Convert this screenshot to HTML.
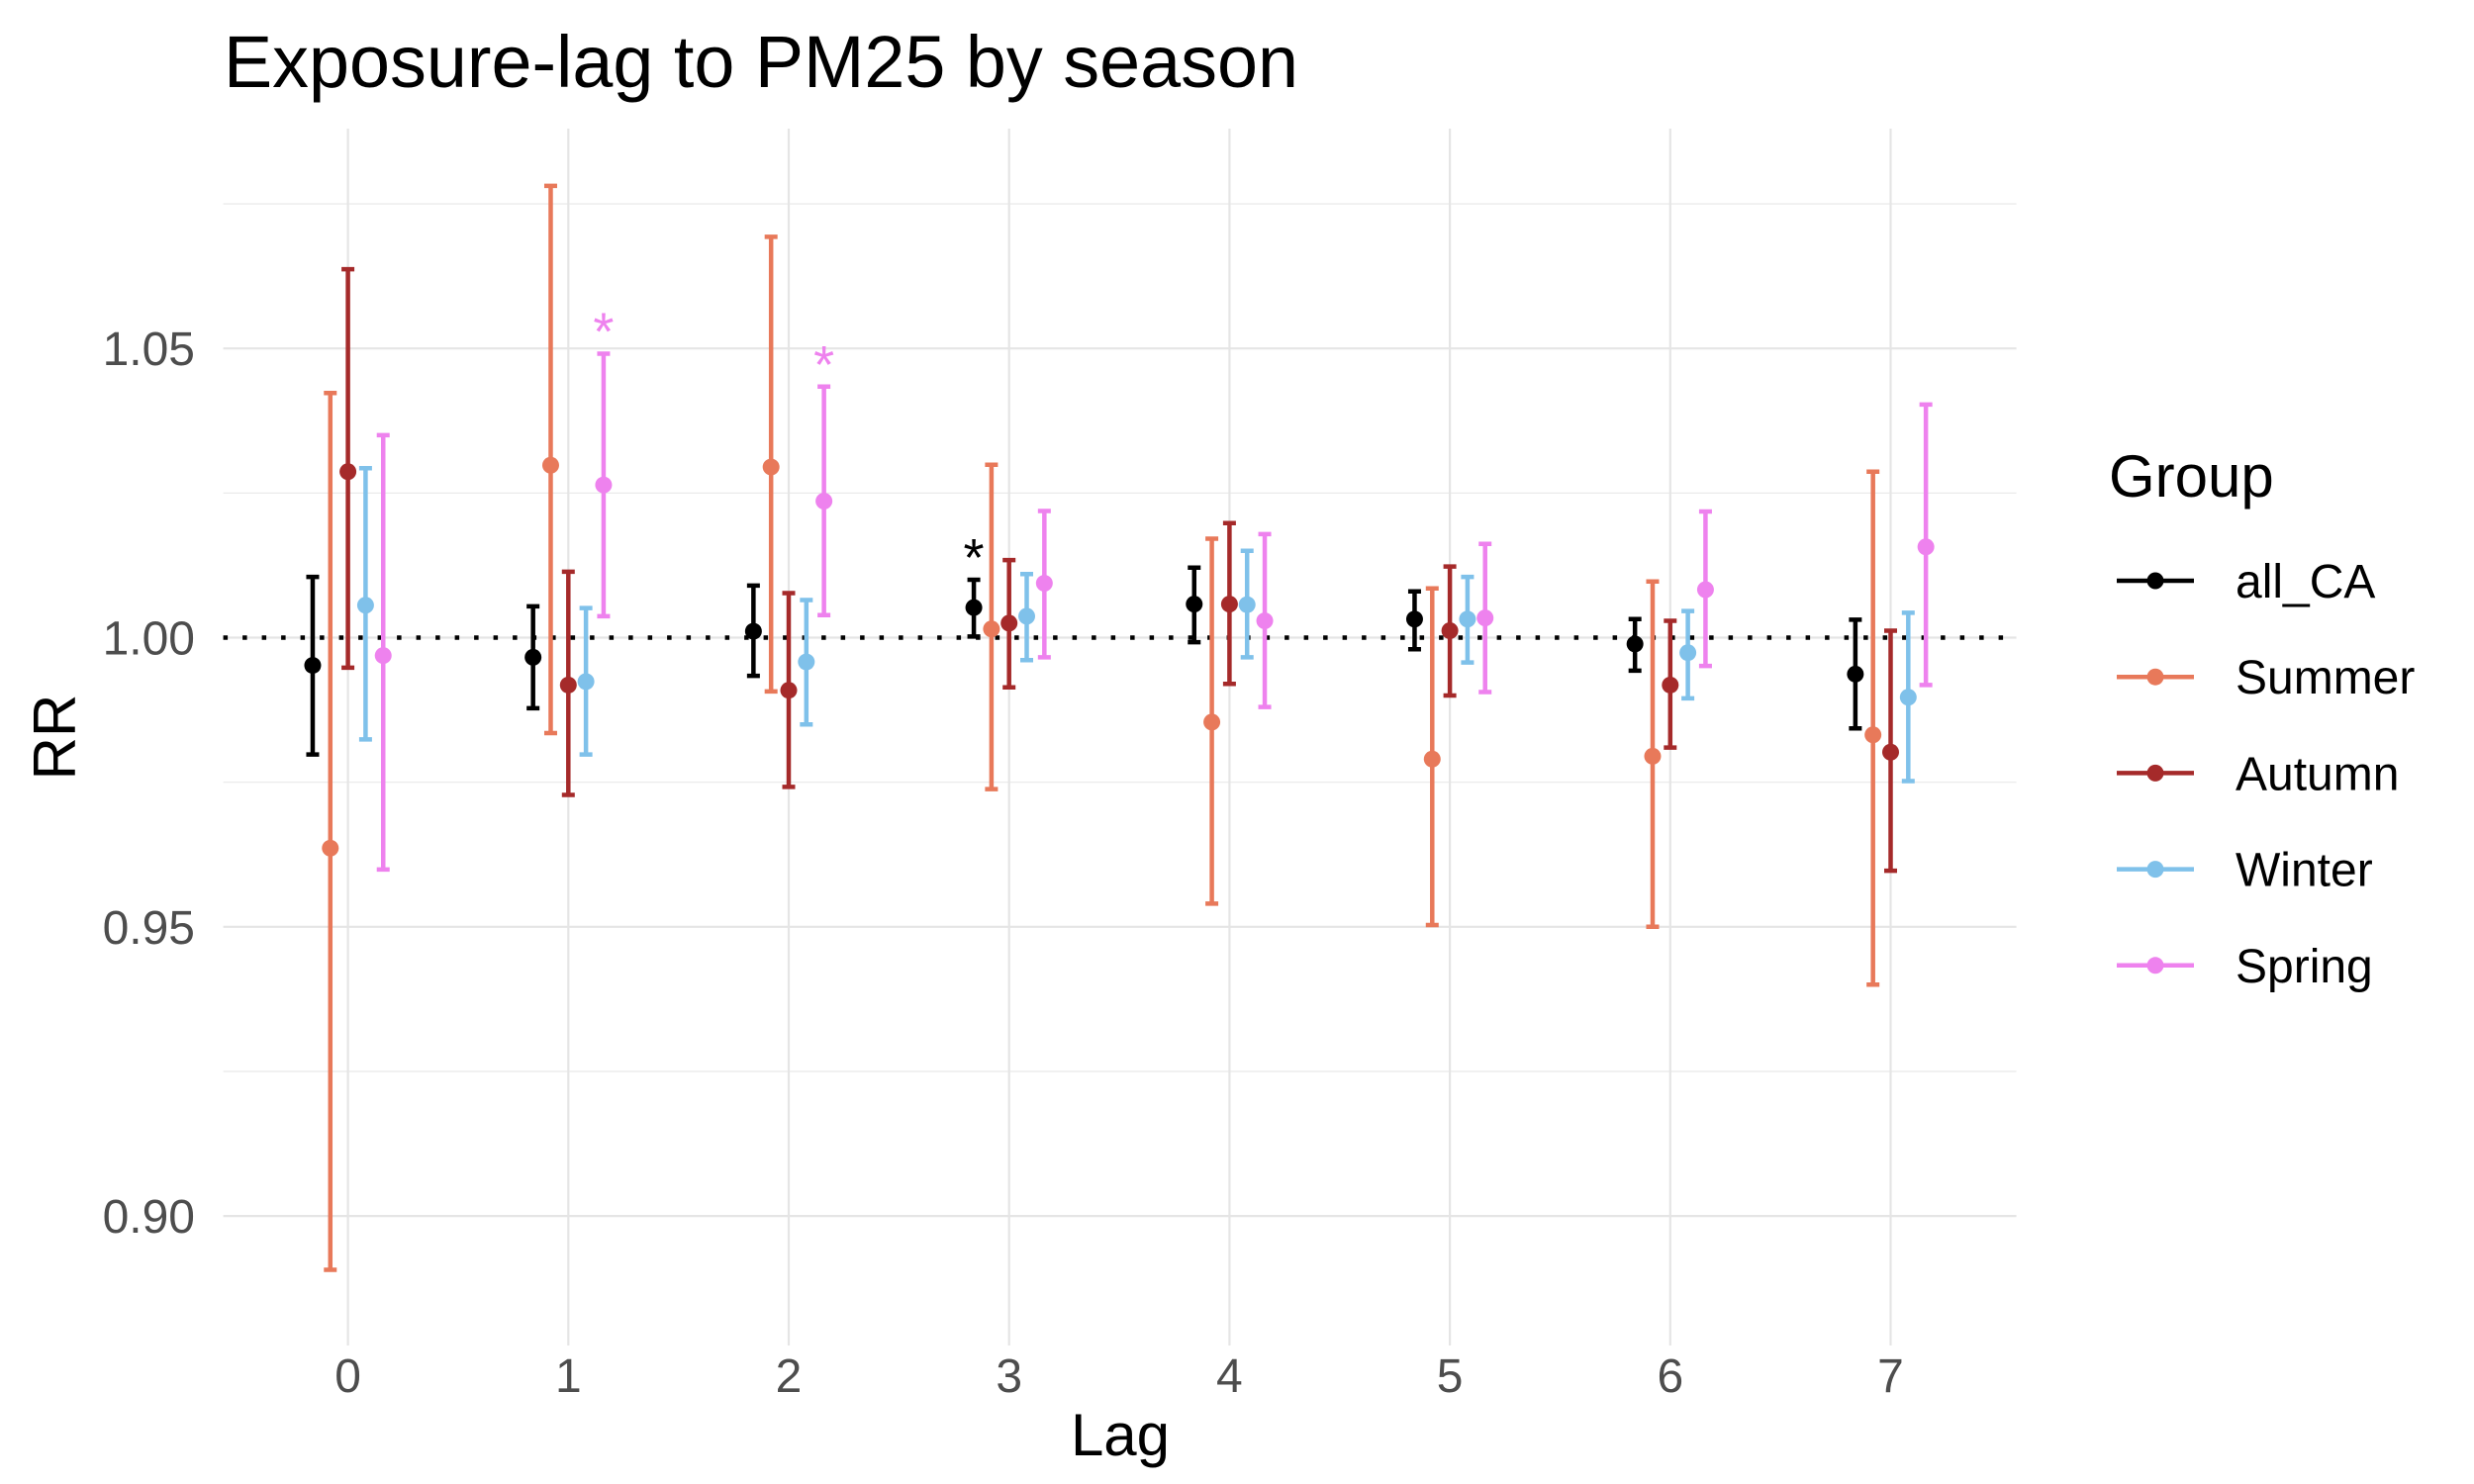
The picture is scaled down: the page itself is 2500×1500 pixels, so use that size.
<!DOCTYPE html>
<html><head><meta charset="utf-8"><style>
html,body{margin:0;padding:0;background:#fff;}
svg{display:block;font-family:"Liberation Sans",Arial,sans-serif;}
</style></head><body>
<svg id="chart" width="2500" height="1500" viewBox="0 0 2500 1500" xmlns="http://www.w3.org/2000/svg">
<rect width="2500" height="1500" fill="#fff"/>
<text x="226" y="88" font-size="74" textLength="1086" lengthAdjust="spacingAndGlyphs" fill="#000">Exposure-lag to PM25 by season</text>
<g id="grid"></g>
<g id="marks"></g>
<g id="axes"></g>
<text x="1132" y="1471" font-size="60" text-anchor="middle" fill="#000">Lag</text>
<text transform="translate(76,745) rotate(-90)" font-size="60" text-anchor="middle" fill="#000">RR</text>
<g id="legend">
<text x="2131" y="502" font-size="60" fill="#000">Group</text>
</g>
</svg>
<script>
const lags = [0,1,2,3,4,5,6,7];
const groups = ["all_CA","Summer","Autumn","Winter","Spring"];
const colors = ["#000000","#E8795A","#A52A2A","#7FC1EA","#EE82EE"];
const allCA_est = [0.9952,0.9966,1.0011,1.0052,1.0058,1.0032,0.9989,0.9937];
const allCA_lo  = [0.9798,0.9878,0.9934,1.0002,0.9992,0.9980,0.9943,0.9843];
const allCA_hi  = [1.0105,1.0054,1.0090,1.0100,1.0121,1.0080,1.0032,1.0031];
const summer_est = [0.9636,1.0298,1.0295,1.0015,0.9854,0.9790,0.9795,0.9832];
const summer_lo  = [0.8907,0.9835,0.9907,0.9738,0.9540,0.9503,0.9500,0.9400];
const summer_hi  = [1.0423,1.0781,1.0693,1.0299,1.0171,1.0085,1.0097,1.0287];
const autumn_est = [1.0287,0.9918,0.9909,1.0025,1.0058,1.0012,0.9918,0.9802];
const autumn_lo  = [0.9948,0.9728,0.9742,0.9914,0.9920,0.9900,0.9810,0.9597];
const autumn_hi  = [1.0637,1.0114,1.0077,1.0134,1.0198,1.0123,1.0029,1.0012];
const winter_est = [1.0056,0.9924,0.9958,1.0037,1.0057,1.0032,0.9974,0.9897];
const winter_lo  = [0.9824,0.9798,0.9850,0.9961,0.9966,0.9957,0.9895,0.9752];
const winter_hi  = [1.0293,1.0051,1.0065,1.0110,1.0150,1.0105,1.0046,1.0043];
const spring_est = [0.9969,1.0264,1.0236,1.0094,1.0029,1.0034,1.0083,1.0157];
const spring_lo  = [0.9599,1.0037,1.0039,0.9966,0.9880,0.9906,0.9951,0.9918];
const spring_hi  = [1.0350,1.0491,1.0434,1.0219,1.0179,1.0162,1.0218,1.0403];
const significant = [[0,0,0,1,0,0,0,0],[0,0,0,0,0,0,0,0],[0,0,0,0,0,0,0,0],[0,0,0,0,0,0,0,0],[0,1,1,0,0,0,0,0]];
const yTicks = [0.90,0.95,1.00,1.05];
const yTickLabels = ["0.90","0.95","1.00","1.05"];
const yMinor = [0.925,0.975,1.025,1.075];

const est=[allCA_est,summer_est,autumn_est,winter_est,spring_est];
const lo=[allCA_lo,summer_lo,autumn_lo,winter_lo,spring_lo];
const hi=[allCA_hi,summer_hi,autumn_hi,winter_hi,spring_hi];
const NS="http://www.w3.org/2000/svg";
const PL=225.6, PR=2037.6, PT=130, PB=1360;
function xS(l){return 351.6+l*222.7;}
function yS(v){return 644.5-(v-1)/0.05*292.3;}
function mk(tag,attrs,parent){const e=document.createElementNS(NS,tag);for(const k in attrs)e.setAttribute(k,attrs[k]);parent.appendChild(e);return e;}
const grid=document.getElementById('grid'),marks=document.getElementById('marks'),axes=document.getElementById('axes'),legend=document.getElementById('legend');
yMinor.forEach(v=>{const l=mk('line',{x1:PL,x2:PR,y1:yS(v),y2:yS(v),stroke:'#ebebeb','stroke-width':1.3},grid);

});
yTicks.forEach((v,i)=>{const l=mk('line',{x1:PL,x2:PR,y1:yS(v),y2:yS(v),stroke:'#e5e5e5','stroke-width':2.2},grid);


const t=mk('text',{x:197,y:yS(v)+17,'font-size':48,'text-anchor':'end',fill:'#4d4d4d'},axes);t.textContent=yTickLabels[i];

});
lags.forEach(l=>{const g=mk('line',{x1:xS(l),x2:xS(l),y1:PT,y2:PB,stroke:'#e5e5e5','stroke-width':2.2},grid);


const t=mk('text',{x:xS(l),y:1407,'font-size':48,'text-anchor':'middle',fill:'#4d4d4d'},axes);t.textContent=String(l);

});
const ref=mk('line',{x1:PL,x2:PR,y1:yS(1),y2:yS(1),stroke:'#000','stroke-width':4.5,'stroke-dasharray':'4.5 15'},marks);


const offs=[-0.16,-0.08,0,0.08,0.16];
groups.forEach((gname,gi)=>{
 const g=mk('g',{},marks);
 
 
 const c=colors[gi];
 lags.forEach((l,i)=>{
  const x=xS(l+offs[gi]);
  const e=mk('path',{d:`M${x-6.5},${yS(hi[gi][i])}H${x+6.5}M${x},${yS(hi[gi][i])}V${yS(lo[gi][i])}M${x-6.5},${yS(lo[gi][i])}H${x+6.5}`,stroke:c,'stroke-width':4.5,fill:'none'},g);
  
  
  const p=mk('circle',{cx:x,cy:yS(est[gi][i]),r:8.5,fill:c},g);
  
  
  if(significant[gi][i]){const s=mk('text',{x:x,y:yS(hi[gi][i])-4,'font-size':54,'text-anchor':'middle',fill:c},g);s.textContent='*';
  
  }
 });
 const ly=587+gi*97.2;
 const k=mk('g',{},legend);
 
 
 mk('line',{x1:2139,x2:2217,y1:ly,y2:ly,stroke:c,'stroke-width':4.5},k);
 mk('circle',{cx:2178,cy:ly,r:8.5,fill:c},k);
 const t=mk('text',{x:2259,y:ly+17,'font-size':48,fill:'#000'},k);t.textContent=gname;
});
</script>
</body></html>
